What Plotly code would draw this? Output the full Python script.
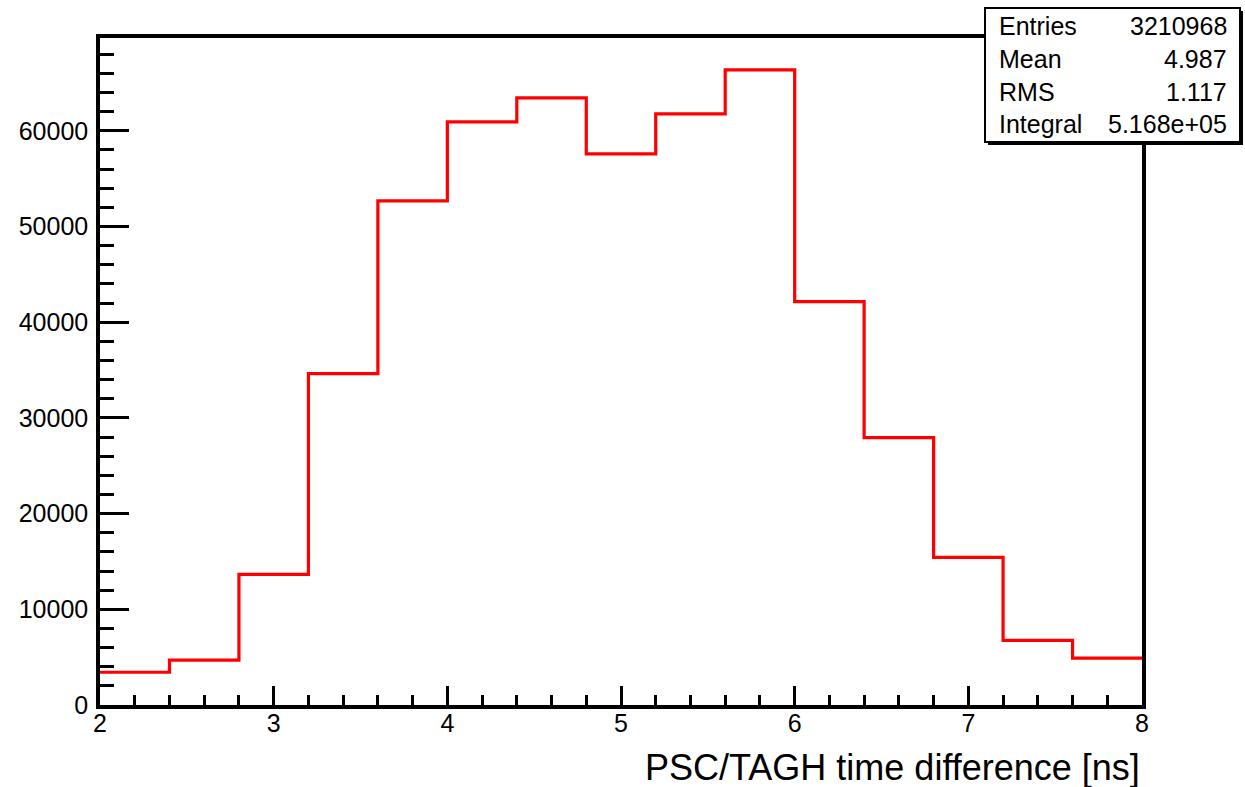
import plotly.graph_objects as go

# ---- data ----
bin_edges = [2.0, 2.4, 2.8, 3.2, 3.6, 4.0, 4.4, 4.8, 5.2, 5.6, 6.0, 6.4, 6.8, 7.2, 7.6, 8.0]
bin_counts = [3420, 4680, 13650, 34630, 52690, 60940, 63440, 57600, 61770, 66370,
              42150, 27950, 15430, 6760, 4890]
x_title = "PSC/TAGH time difference [ns]"
stats_labels = ["Entries", "Mean", "RMS", "Integral"]
stats_values = ["3210968", "4.987", "1.117", "5.168e+05"]

W, H = 1245, 787
L, R, T, B = 100, 103, 38, 82
PW, PH = W - L - R, H - T - B
FONT = "Liberation Sans, Arial, Helvetica, sans-serif"

def px(x):
    return (x - L) / PW

def py(y):
    return (H - B - y) / PH

fig = go.Figure()
fig.add_trace(go.Scatter(
    x=bin_edges,
    y=bin_counts + [bin_counts[-1]],
    mode="lines",
    line=dict(color="#ff0000", width=3.2, shape="hv"),
    showlegend=False,
    hoverinfo="skip",
))

axis_common = dict(
    showline=True, linecolor="black", linewidth=3.5, mirror=True,
    ticks="inside", tickcolor="black", tickwidth=3,
    showgrid=False, zeroline=False,
    tickfont=dict(family=FONT, size=25, color="black"),
)

fig.update_xaxes(
    range=[2, 8], tick0=2, dtick=1, ticklen=19, ticklabelstandoff=-7,
    minor=dict(dtick=0.2, tick0=2, ticks="inside", ticklen=10, tickwidth=3,
               tickcolor="black", showgrid=False),
    **axis_common,
)
fig.update_yaxes(
    range=[0, 69700], tick0=0, dtick=10000, ticklen=29, tickformat="d",
    ticklabelstandoff=3,
    minor=dict(dtick=2000, tick0=0, ticks="inside", ticklen=14, tickwidth=3,
               tickcolor="black", showgrid=False),
    **axis_common,
)

shapes = []
# stats box shadow and box
bx0, bx1, by0, by1 = 985, 1240, 8, 142
shapes.append(dict(type="rect", xref="paper", yref="paper",
                   x0=px(bx0 + 3), x1=px(bx1 + 3), y0=py(by1 + 3), y1=py(by0 + 3),
                   fillcolor="black", line=dict(width=0), layer="above"))
shapes.append(dict(type="rect", xref="paper", yref="paper",
                   x0=px(bx0), x1=px(bx1), y0=py(by1), y1=py(by0),
                   fillcolor="white", line=dict(color="black", width=2), layer="above"))

annotations = []
row_y = [26, 59, 92, 124]
for lab, val, yy in zip(stats_labels, stats_values, row_y):
    annotations.append(dict(xref="paper", yref="paper", x=px(997), y=py(yy),
                            xanchor="left", yanchor="middle", text=lab, showarrow=False,
                            font=dict(family=FONT, size=25, color="black")))
    annotations.append(dict(xref="paper", yref="paper", x=px(1229), y=py(yy),
                            xanchor="right", yanchor="middle", text=val, showarrow=False,
                            font=dict(family=FONT, size=25, color="black")))

annotations.append(dict(xref="paper", yref="paper", x=1.0, y=py(767),
                        xanchor="right", yanchor="middle", text=x_title, showarrow=False,
                        font=dict(family=FONT, size=36, color="black")))

fig.update_layout(
    width=W, height=H, autosize=False,
    margin=dict(l=L, r=R, t=T, b=B),
    paper_bgcolor="white", plot_bgcolor="white",
    shapes=shapes, annotations=annotations,
    showlegend=False,
)

fig.write_html("out.html")
